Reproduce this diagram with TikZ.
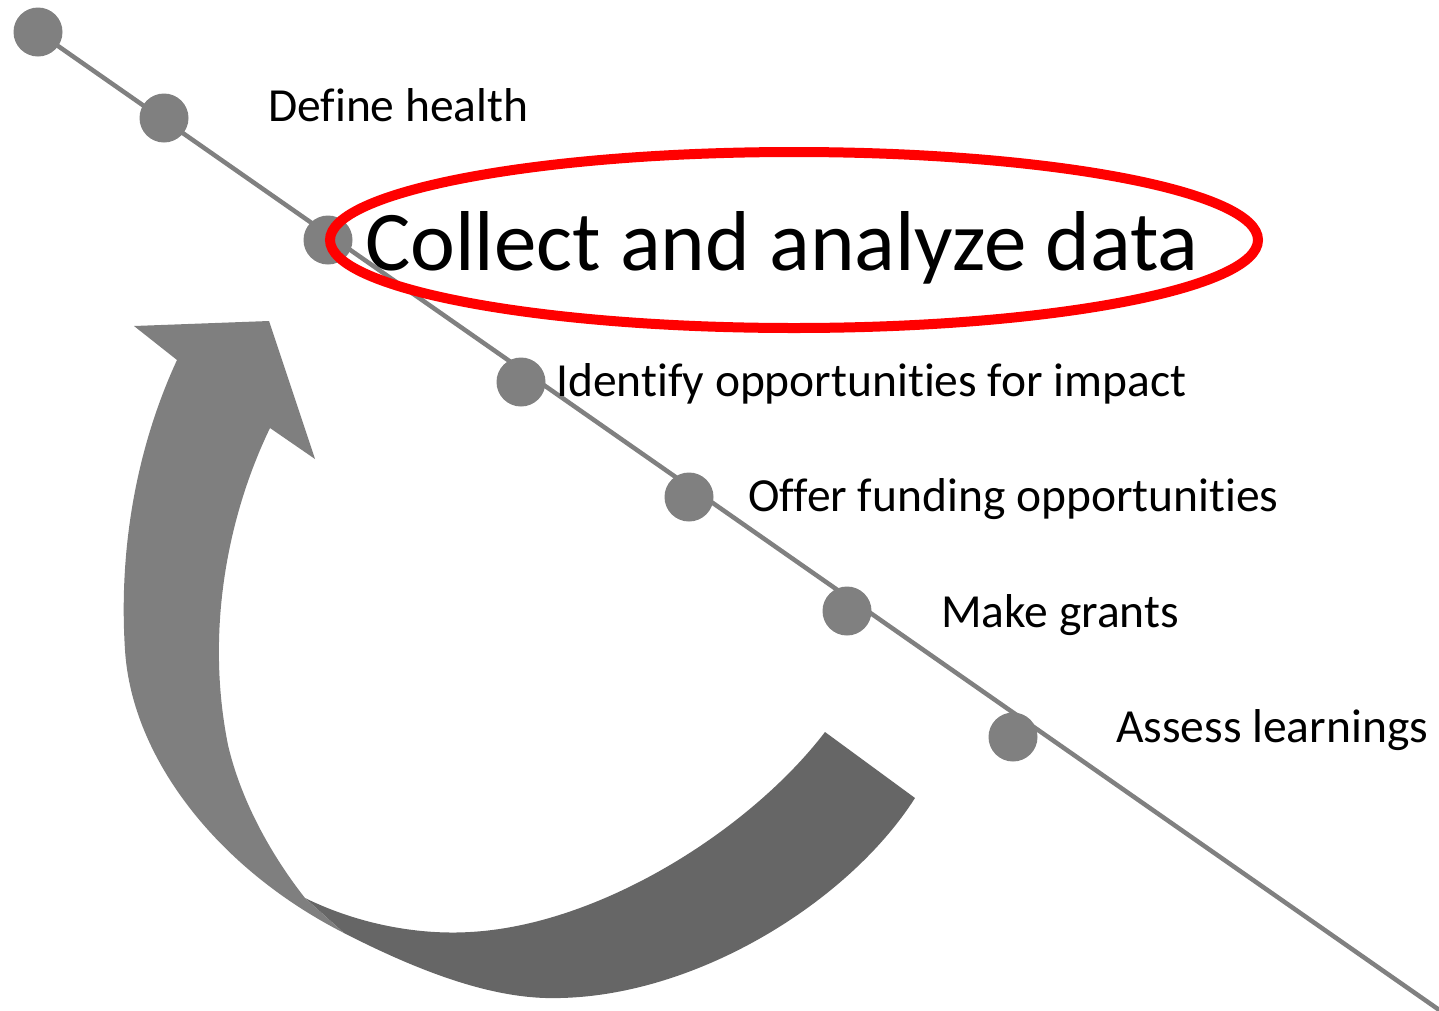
\documentclass[tikz,border=0pt]{standalone}
\usepackage{fontspec}
\usetikzlibrary{shapes.geometric}
\setmainfont{Carlito}[Ligatures=NoCommon]
\definecolor{dotgray}{HTML}{808080}
\definecolor{lightband}{HTML}{7F7F7F}
\definecolor{darkband}{HTML}{666666}
\definecolor{ringred}{HTML}{FF0000}
\begin{document}
\begin{tikzpicture}[x=1pt,y=-1pt,
  dot/.style={circle,fill=dotgray,inner sep=0pt,minimum size=49pt},
  lbl/.style={anchor=base west,font=\fontsize{47.5}{57}\selectfont,inner sep=0pt},
  bigl/.style={anchor=base west,font=\fontsize{85}{100}\selectfont,inner sep=0pt},
  timeline/.style={draw=dotgray,line width=4.5pt},
  ring/.style={draw=ringred,line width=10pt}
]
\useasboundingbox (0,0) rectangle (1439,1010);
\clip (0,0) rectangle (1439,1010);

% curved arrow: back (dark) part
\fill[darkband] (305,898)
  .. controls (360,925) and (420,935) .. (470,932)
  .. controls (600,925) and (750,830) .. (825,732)
  -- (915,798)
  .. controls (850,900) and (700,995) .. (560,998)
  .. controls (500,1000) and (430,977) .. (344,933)
  -- cycle;
% curved arrow: front (light) part with head
\fill[lightband] (134,326) -- (269,321) -- (315,459) -- (270,428)
  .. controls (228,515) and (205,630) .. (228,745)
  .. controls (242,805) and (275,860) .. (305,898)
  -- (344,933)
  .. controls (220,870) and (132,760) .. (125,650)
  .. controls (118,540) and (140,440) .. (177,360)
  -- cycle;

% timeline
\coordinate (tend) at (1445,1014);
\node[dot] (d1) at (38,32) {};
\draw[timeline] (d1.center) -- (tend);
\node[dot] (d2) at (164,118) {};
\node[dot] (d3) at (328,240) {};
\node[dot] (d4) at (521,382) {};
\node[dot] (d5) at (689,497) {};
\node[dot] (d6) at (847,611) {};
\node[dot] (d7) at (1013,737) {};

% highlight ring
\node[ring,ellipse,minimum width=928pt,minimum height=176pt,inner sep=0pt] (hl) at (794,240) {};

% labels
\node[lbl] (t1) at (268,121) {Define health};
\node[bigl] (t2) at (365,270) {Collect and analyze data};
\node[lbl] (t3) at (556,396) {Identify opportunities for impact};
\node[lbl] (t4) at (748,511) {Offer funding opportunities};
\node[lbl] (t5) at (941,627) {Make grants};
\node[lbl] (t6) at (1116,742) {Assess learnings};
\end{tikzpicture}
\end{document}
